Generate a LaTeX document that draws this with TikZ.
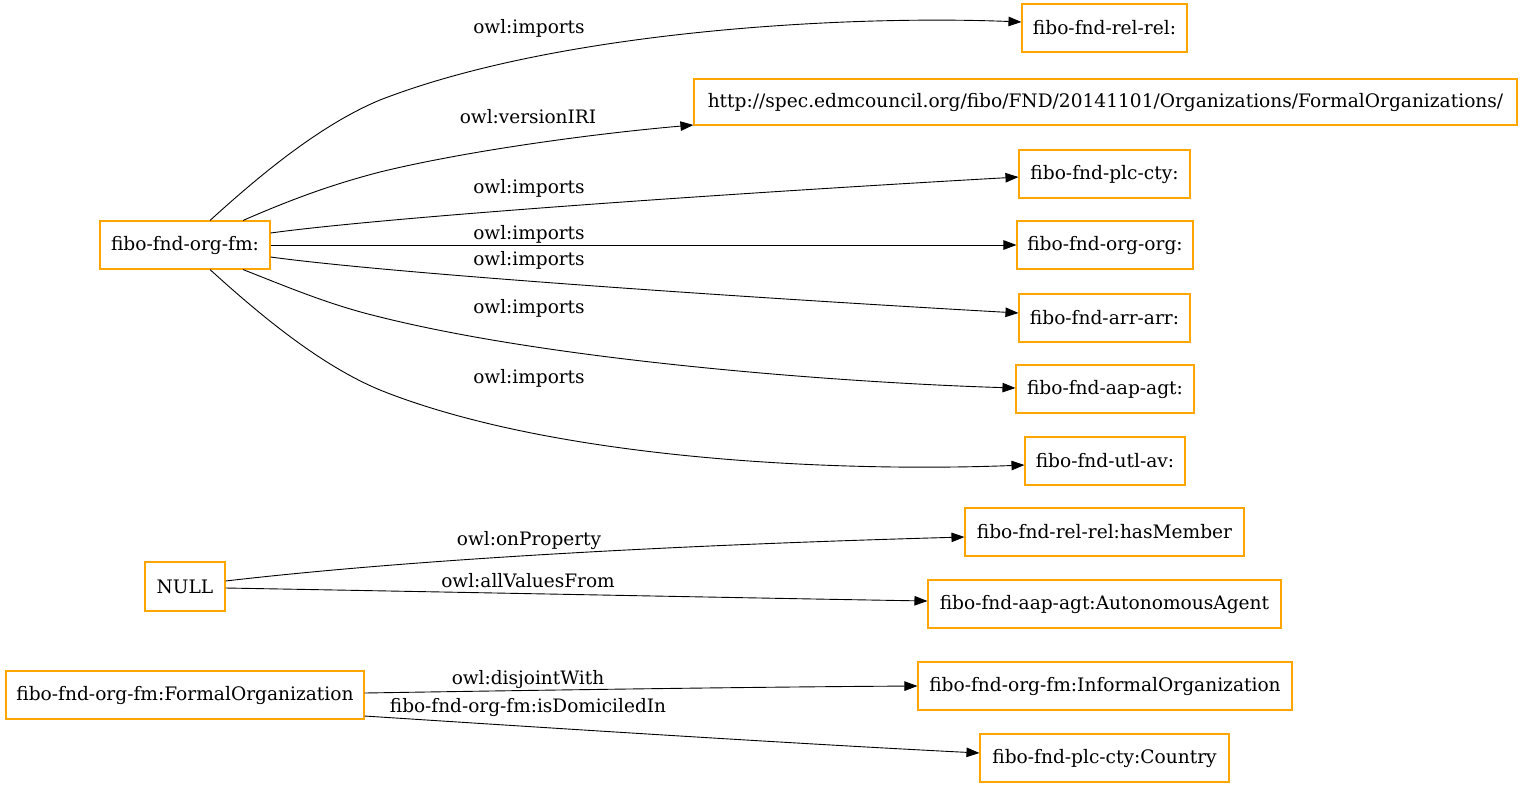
\documentclass[tikz,border=0pt]{standalone}
\usepackage{fontspec}
\setmainfont{DejaVu Serif}
\usetikzlibrary{arrows.meta}
\definecolor{gvorange}{HTML}{FFA500}
\tikzset{
  box/.style={draw=gvorange, line width=1.1pt, fill=white, minimum height=48pt, inner xsep=2pt, font=\fontsize{18.6}{20}\selectfont, text=black},
  edge/.style={draw=black, line width=0.9pt, -{Triangle[length=13pt,width=9.5pt]}},
  lbl/.style={font=\fontsize{18.5}{20}\selectfont, text=black, inner sep=0pt}
}
\begin{document}
\begin{tikzpicture}[x=1pt,y=-1pt]
\useasboundingbox (0,0) rectangle (1523,788);
\node[box, minimum width=170pt] (fm) at (185,245) {fibo-fnd-org-fm:};
\node[box, minimum width=165pt] (relrel) at (1104.5,28) {fibo-fnd-rel-rel:};
\node[box, minimum width=823pt, minimum height=46pt] (http) at (1105.5,102) {http://spec.edmcouncil.org/fibo/FND/20141101/Organizations/FormalOrganizations/};
\node[box, minimum width=171pt] (plccty) at (1104.5,174) {fibo-fnd-plc-cty:};
\node[box, minimum width=176pt] (orgorg) at (1105,245) {fibo-fnd-org-org:};
\node[box, minimum width=171pt] (arrarr) at (1104.5,318) {fibo-fnd-arr-arr:};
\node[box, minimum width=178pt] (aapagt) at (1105,389) {fibo-fnd-aap-agt:};
\node[box, minimum width=160pt] (utlav) at (1105,461) {fibo-fnd-utl-av:};
\node[box, minimum width=279pt] (hasmember) at (1104.5,532) {fibo-fnd-rel-rel:hasMember};
\node[box, minimum width=80pt, minimum height=49pt] (null) at (185,586.5) {NULL};
\node[box, minimum width=353pt] (agent) at (1104.5,604) {fibo-fnd-aap-agt:AutonomousAgent};
\node[box, minimum width=358pt] (formal) at (185,695) {fibo-fnd-org-fm:FormalOrganization};
\node[box, minimum width=374pt] (informal) at (1105,686) {fibo-fnd-org-fm:InformalOrganization};
\node[box, minimum width=249pt] (country) at (1104.5,758) {fibo-fnd-plc-cty:Country};

\draw[edge] ([xshift=25pt]fm.north) .. controls (260,175) and (320,125) .. (380,100) .. controls (560,30) and (850,15) .. ([yshift=6pt]relrel.west);
\draw[edge] ([xshift=58pt]fm.north) .. controls (290,200) and (330,185) .. (380,172) .. controls (470,150) and (600,133) .. ([yshift=-23pt]http.west);
\draw[edge] ([yshift=12pt]fm.east) .. controls (380,218) and (700,195) .. ([yshift=-3pt]plccty.west);
\draw[edge] (fm.east) -- (orgorg.west);
\draw[edge] ([yshift=-12pt]fm.east) .. controls (380,272) and (700,295) .. ([yshift=5pt]arrarr.west);
\draw[edge] ([xshift=58pt]fm.south) .. controls (290,288) and (330,305) .. (380,317) .. controls (560,362) and (850,383) .. ([yshift=1pt]aapagt.west);
\draw[edge] ([xshift=25pt]fm.south) .. controls (260,315) and (320,365) .. (380,390) .. controls (560,462) and (850,472) .. ([yshift=-4pt]utlav.west);
\draw[edge] ([yshift=5.5pt]null.east) .. controls (450,555) and (750,543) .. ([yshift=-5pt]hasmember.west);
\draw[edge] ([yshift=-1.5pt]null.east) .. controls (450,592) and (750,598) .. ([yshift=3pt]agent.west);
\draw[edge] ([yshift=2pt]formal.east) .. controls (550,690) and (750,687) .. (informal.west);
\draw[edge] ([yshift=-21pt]formal.east) .. controls (550,728) and (800,744) .. ([yshift=5pt]country.west);

\node[lbl] (l1) at (529,28) {owl:imports};
\node[lbl] (l2) at (528,117) {owl:versionIRI};
\node[lbl] (l3) at (529,188) {owl:imports};
\node[lbl] (l4) at (529,234) {owl:imports};
\node[lbl] (l5) at (529,260) {owl:imports};
\node[lbl] (l6) at (529,308) {owl:imports};
\node[lbl] (l7) at (529,378) {owl:imports};
\node[lbl] (l8) at (529,541) {owl:onProperty};
\node[lbl] (l9) at (528,581) {owl:allValuesFrom};
\node[lbl] (l10) at (528,680) {owl:disjointWith};
\node[lbl] (l11) at (528,708) {fibo-fnd-org-fm:isDomiciledIn};
\end{tikzpicture}
\end{document}
